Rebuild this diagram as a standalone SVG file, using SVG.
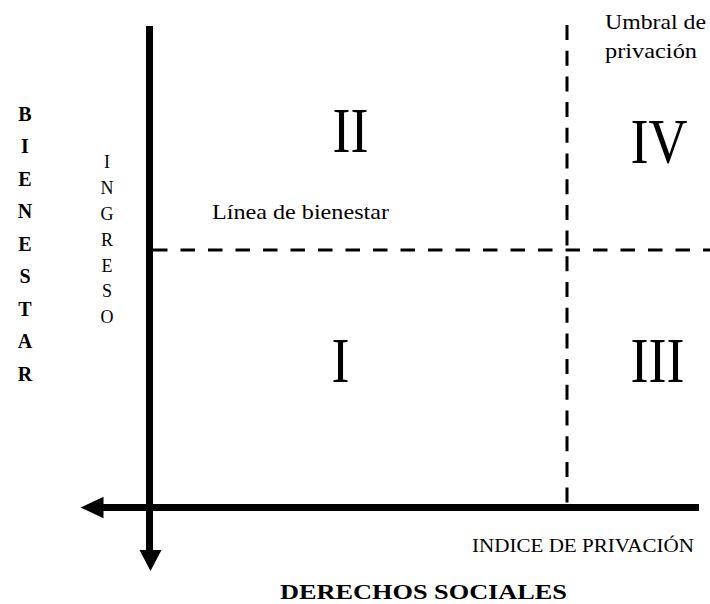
<svg xmlns="http://www.w3.org/2000/svg" width="710" height="604" viewBox="0 0 710 604">
<style>
.t{font-family:"Liberation Serif","Times New Roman",serif;fill:#000}
.b{font-weight:bold;font-size:20px}
.s{font-size:18px}
.r{font-size:54px}
.l{font-size:21px}
.axis{stroke:#000;stroke-width:7;fill:none}
.dash{stroke:#000;stroke-width:3;fill:none}
</style>
<rect width="710" height="604" fill="#fff"/>
<g id="connectors">
  <line class="axis" x1="149.5" y1="26" x2="149.5" y2="552"/>
  <polygon points="139.5,550 161.5,550 150.5,571" fill="#000"/>
  <line class="axis" x1="101" y1="507.5" x2="699" y2="507.5"/>
  <polygon points="103.5,496.7 103.5,518.3 80.7,507.5" fill="#000"/>
  <line class="dash" x1="153" y1="250" x2="710" y2="250" stroke-dasharray="14.5 13"/>
  <line class="dash" x1="567" y1="25" x2="567" y2="504" stroke-dasharray="15 10.7"/>
</g>
<g id="quadrant-II"><text class="t r" text-anchor="middle" transform="translate(350.5 152) scale(1 1.17)">II</text></g>
<g id="quadrant-IV"><text class="t r" text-anchor="middle" transform="translate(659 163) scale(1 1.17)">IV</text></g>
<g id="quadrant-I"><text class="t r" text-anchor="middle" transform="translate(340.5 382) scale(1 1.17)">I</text></g>
<g id="quadrant-III"><text class="t r" text-anchor="middle" transform="translate(657.5 382) scale(1 1.17)">III</text></g>
<g id="umbral">
  <text class="t l" x="605" y="29" textLength="101" lengthAdjust="spacingAndGlyphs">Umbral de</text>
  <text class="t l" x="605" y="58" textLength="92" lengthAdjust="spacingAndGlyphs">privación</text>
</g>
<g id="linea"><text class="t l" x="212" y="219" textLength="177" lengthAdjust="spacingAndGlyphs">Línea de bienestar</text></g>
<g id="indice"><text class="t s" x="472" y="552" textLength="222" lengthAdjust="spacingAndGlyphs">INDICE DE PRIVACIÓN</text></g>
<g id="derechos"><text class="t b" x="280" y="599" textLength="287" lengthAdjust="spacingAndGlyphs">DERECHOS SOCIALES</text></g>
<g id="bienestar" class="t b" text-anchor="middle">
  <text x="25" y="121">B</text>
  <text x="25" y="153">I</text>
  <text x="25" y="186">E</text>
  <text x="25" y="218">N</text>
  <text x="25" y="251">E</text>
  <text x="25" y="283">S</text>
  <text x="25" y="316">T</text>
  <text x="25" y="348">A</text>
  <text x="25" y="381">R</text>
</g>
<g id="ingreso" class="t s" text-anchor="middle">
  <text x="107" y="168">I</text>
  <text x="107" y="194">N</text>
  <text x="107" y="220">G</text>
  <text x="107" y="246">R</text>
  <text x="107" y="272">E</text>
  <text x="107" y="297">S</text>
  <text x="107" y="323">O</text>
</g>
</svg>
